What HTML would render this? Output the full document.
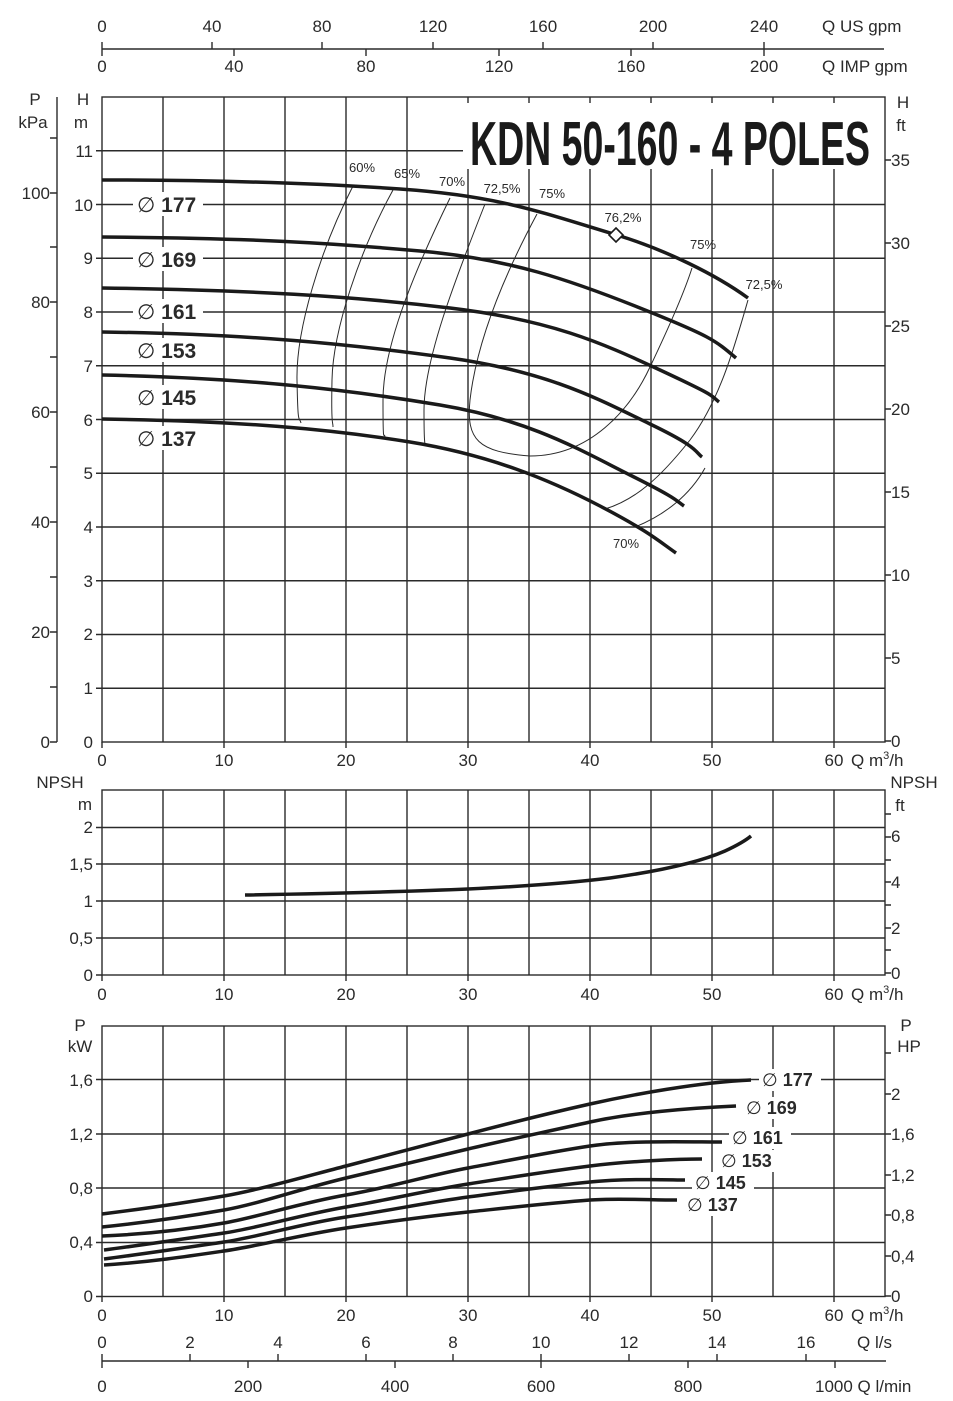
<!DOCTYPE html>
<html><head><meta charset="utf-8"><style>
html,body{margin:0;padding:0;background:#fff;}
svg{display:block;}
text{font-family:"Liberation Sans",Arial,sans-serif;fill:#2a2a2a;}
</style></head><body>
<svg width="953" height="1401" viewBox="0 0 953 1401" xmlns="http://www.w3.org/2000/svg">
<g stroke="#2a2a2a" fill="none" stroke-width="1.4">
<line x1="102" y1="49" x2="884" y2="49"/>
<path d="M102 42V56 M212 42V49 M322 42V49 M433 42V49 M543 42V49 M653 42V49 M764 42V49 M234 49V56 M366 49V56 M499 49V56 M631 49V56 M764 49V56"/>
<rect x="102" y="97" width="783" height="645"/>
<path d="M163 97V742 M224 97V742 M285 97V742 M346 97V742 M407 97V742 M468 97V742 M529 97V742 M590 97V742 M651 97V742 M712 97V742 M773 97V742 M834 97V742"/>
<path d="M96 688.25H885 M96 634.5H885 M96 580.75H885 M96 527H885 M96 473.25H885 M96 419.5H885 M96 365.75H885 M96 312H885 M96 258.25H885 M96 204.5H885 M96 150.75H463"/>
<path d="M102 742V748 M224 742V748 M346 742V748 M468 742V748 M590 742V748 M712 742V748 M834 742V748"/>
<line x1="57" y1="97" x2="57" y2="742"/>
<path d="M50 742H57 M50 687H57 M50 632H57 M50 577H57 M50 522H57 M50 467H57 M50 412H57 M50 357H57 M50 302H57 M50 247H57 M50 193H57 M50 138H57"/>
<path d="M885 741H891 M885 658H891 M885 575H891 M885 492H891 M885 409H891 M885 326H891 M885 243H891 M885 160H891"/>
</g>
<rect x="465" y="103" width="413" height="66" fill="#fff"/>
<text x="470" y="165" font-size="62" font-weight="bold" textLength="400" lengthAdjust="spacingAndGlyphs" style="fill:#1a1a1a">KDN 50-160 - 4 POLES</text>

<g font-size="17">
<text x="102" y="32" text-anchor="middle">0</text><text x="212" y="32" text-anchor="middle">40</text><text x="322" y="32" text-anchor="middle">80</text><text x="433" y="32" text-anchor="middle">120</text><text x="543" y="32" text-anchor="middle">160</text><text x="653" y="32" text-anchor="middle">200</text><text x="764" y="32" text-anchor="middle">240</text><text x="822" y="32">Q US gpm</text>
<text x="102" y="72" text-anchor="middle">0</text><text x="234" y="72" text-anchor="middle">40</text><text x="366" y="72" text-anchor="middle">80</text><text x="499" y="72" text-anchor="middle">120</text><text x="631" y="72" text-anchor="middle">160</text><text x="764" y="72" text-anchor="middle">200</text><text x="822" y="72">Q IMP gpm</text>
<text x="35" y="105" text-anchor="middle">P</text><text x="33" y="128" text-anchor="middle">kPa</text>
<text x="83" y="105" text-anchor="middle">H</text><text x="81" y="128" text-anchor="middle">m</text>
<text x="903" y="108" text-anchor="middle">H</text><text x="901" y="131" text-anchor="middle">ft</text>
<g text-anchor="end">
<text x="93" y="157">11</text><text x="93" y="211">10</text><text x="93" y="264">9</text><text x="93" y="318">8</text><text x="93" y="372">7</text><text x="93" y="426">6</text><text x="93" y="479">5</text><text x="93" y="533">4</text><text x="93" y="587">3</text><text x="93" y="640">2</text><text x="93" y="694">1</text><text x="93" y="748">0</text>
<text x="50" y="199">100</text><text x="50" y="308">80</text><text x="50" y="418">60</text><text x="50" y="528">40</text><text x="50" y="638">20</text><text x="50" y="748">0</text>
</g>
<text x="891" y="166">35</text><text x="891" y="249">30</text><text x="891" y="332">25</text><text x="891" y="415">20</text><text x="891" y="498">15</text><text x="891" y="581">10</text><text x="891" y="664">5</text><text x="891" y="747">0</text>
<text x="102" y="766" text-anchor="middle">0</text><text x="224" y="766" text-anchor="middle">10</text><text x="346" y="766" text-anchor="middle">20</text><text x="468" y="766" text-anchor="middle">30</text><text x="590" y="766" text-anchor="middle">40</text><text x="712" y="766" text-anchor="middle">50</text><text x="834" y="766" text-anchor="middle">60</text><text x="851" y="766">Q m<tspan font-size="11" dy="-7">3</tspan><tspan dy="7">/h</tspan></text>
</g>

<g stroke="#2a2a2a" fill="none" stroke-width="1">
<path d="M353 186 C320 250 296 330 297 380 S299 415 301 423"/>
<path d="M393 190 C360 250 333 330 332 380 S333 420 333 427"/>
<path d="M450 198 C410 280 383 350 383 400 S384 430 385 437"/>
<path d="M485 204 C455 280 424 360 424 410 S426 440 427 445"/>
<path d="M537 214 C515 255 478 330 470 400 C466 440 478 452 530 456 C590 456 630 410 650 367 C670 325 685 290 692 268"/>
<path d="M748 300 C735 345 720 400 690 440 C660 478 635 500 605 509"/>
<path d="M705 468 C690 495 665 515 635 527"/>
</g>
<g stroke="#1a1a1a" fill="none" stroke-width="3.5" stroke-linejoin="round">
<path d="M102 180 C200 180 300 182 400 189 S540 212 620 236 C665 250 715 274 748 298"/>
<path d="M102 237 C250 238 330 243 420 251 S570 280 640 308 S715 340 736 358"/>
<path d="M102 288 C250 290 350 296 450 308 S600 342 660 370 S710 395 719 402"/>
<path d="M102 332 C250 334 350 344 450 358 S600 400 650 424 S695 452 702 457"/>
<path d="M102 375 C250 378 350 390 440 405 S580 450 630 475 S675 500 684 506"/>
<path d="M102 419 C240 421 330 429 410 442 S550 480 600 506 S660 542 676 553"/>
</g>
<path d="M616 228 L623 235 L616 242 L609 235 Z" fill="#fff" stroke="#1a1a1a" stroke-width="1.6"/>
<g font-size="13">
<text x="362" y="172" text-anchor="middle">60%</text><text x="407" y="178" text-anchor="middle">65%</text><text x="452" y="186" text-anchor="middle">70%</text><text x="502" y="193" text-anchor="middle">72,5%</text><text x="552" y="198" text-anchor="middle">75%</text><text x="623" y="222" text-anchor="middle">76,2%</text><text x="703" y="249" text-anchor="middle">75%</text><text x="764" y="289" text-anchor="middle">72,5%</text><text x="626" y="548" text-anchor="middle">70%</text>
</g>
<g font-size="21">
<rect x="133" y="192" width="70" height="24" fill="#fff"/><text x="137" y="212">∅ <tspan font-weight="bold">177</tspan></text>
<rect x="133" y="247" width="70" height="24" fill="#fff"/><text x="137" y="267">∅ <tspan font-weight="bold">169</tspan></text>
<rect x="133" y="299" width="70" height="24" fill="#fff"/><text x="137" y="319">∅ <tspan font-weight="bold">161</tspan></text>
<rect x="133" y="338" width="70" height="24" fill="#fff"/><text x="137" y="358">∅ <tspan font-weight="bold">153</tspan></text>
<rect x="133" y="385" width="70" height="24" fill="#fff"/><text x="137" y="405">∅ <tspan font-weight="bold">145</tspan></text>
<rect x="133" y="426" width="70" height="24" fill="#fff"/><text x="137" y="446">∅ <tspan font-weight="bold">137</tspan></text>
</g>

<g stroke="#2a2a2a" fill="none" stroke-width="1.4">
<rect x="102" y="790" width="783" height="185"/>
<path d="M163 790V975 M224 790V975 M285 790V975 M346 790V975 M407 790V975 M468 790V975 M529 790V975 M590 790V975 M651 790V975 M712 790V975 M773 790V975 M834 790V975"/>
<path d="M96 938H885 M96 901H885 M96 864H885 M96 827.5H885 M96 975H102"/>
<path d="M102 975V981 M224 975V981 M346 975V981 M468 975V981 M590 975V981 M712 975V981 M834 975V981"/>
<path d="M885 973H891 M885 950H891 M885 928H891 M885 905H891 M885 882H891 M885 860H891 M885 837H891 M885 814H891"/>
</g>
<path d="M245 895 C300 894 400 892 468 889 C530 886 570 883 610 878 C660 871 700 862 725 851 C738 845 745 841 751 836" stroke="#1a1a1a" stroke-width="3.5" fill="none"/>
<g font-size="17">
<text x="60" y="788" text-anchor="middle">NPSH</text><text x="85" y="810" text-anchor="middle">m</text>
<text x="914" y="788" text-anchor="middle">NPSH</text><text x="900" y="811" text-anchor="middle">ft</text>
<g text-anchor="end"><text x="93" y="833">2</text><text x="93" y="870">1,5</text><text x="93" y="907">1</text><text x="93" y="944">0,5</text><text x="93" y="981">0</text></g>
<text x="891" y="842">6</text><text x="891" y="888">4</text><text x="891" y="934">2</text><text x="891" y="979">0</text>
<text x="102" y="1000" text-anchor="middle">0</text><text x="224" y="1000" text-anchor="middle">10</text><text x="346" y="1000" text-anchor="middle">20</text><text x="468" y="1000" text-anchor="middle">30</text><text x="590" y="1000" text-anchor="middle">40</text><text x="712" y="1000" text-anchor="middle">50</text><text x="834" y="1000" text-anchor="middle">60</text><text x="851" y="1000">Q m<tspan font-size="11" dy="-7">3</tspan><tspan dy="7">/h</tspan></text>
</g>

<g stroke="#2a2a2a" fill="none" stroke-width="1.4">
<rect x="102" y="1026" width="783" height="270.5"/>
<path d="M163 1026V1296 M224 1026V1296 M285 1026V1296 M346 1026V1296 M407 1026V1296 M468 1026V1296 M529 1026V1296 M590 1026V1296 M651 1026V1296 M712 1026V1296 M773 1026V1296 M834 1026V1296"/>
<path d="M96 1242.5H885 M96 1188H885 M96 1134H885 M96 1079.5H885 M96 1296.5H102"/>
<path d="M102 1296V1302 M224 1296V1302 M346 1296V1302 M468 1296V1302 M590 1296V1302 M712 1296V1302 M834 1296V1302"/>
<path d="M885 1296H891 M885 1256H891 M885 1215H891 M885 1175H891 M885 1134H891 M885 1094H891 M885 1053H891"/>
<line x1="102" y1="1361" x2="886" y2="1361"/>
<path d="M102 1354V1368 M190 1354V1361 M278 1354V1361 M366 1354V1361 M453 1354V1361 M541 1354V1361 M629 1354V1361 M717 1354V1361 M806 1354V1361 M248 1361V1368 M395 1361V1368 M541 1361V1368 M688 1361V1368 M835 1361V1368"/>
</g>
<g stroke="#1a1a1a" fill="none" stroke-width="3.5" stroke-linejoin="round">
<path d="M102 1214 C150 1208 190 1202 224 1196 S300 1178 346 1166 S430 1144 468 1134 S550 1113 590 1104 S700 1082 751 1080"/>
<path d="M102 1227 C150 1222 190 1216 224 1210 S300 1189 346 1178 S430 1158 468 1149 S550 1131 590 1122 S690 1108 736 1106"/>
<path d="M102 1236 C150 1234 190 1229 224 1223 S300 1203 346 1195 S430 1175 468 1168 S550 1152 590 1146 S690 1142 722 1142"/>
<path d="M104 1250 C150 1244 190 1238 224 1233 S300 1215 346 1207 S430 1190 468 1184 S550 1171 590 1166 S680 1159 702 1159"/>
<path d="M104 1259 C150 1253 190 1247 224 1242 S300 1224 346 1217 S430 1202 468 1197 S550 1186 590 1182 S670 1180 685 1180"/>
<path d="M104 1265 C150 1262 190 1256 224 1251 S300 1235 346 1228 S430 1216 468 1212 S550 1203 590 1200 C615 1198 650 1200 677 1200"/>
</g>
<g font-size="18">
<rect x="759" y="1069" width="62" height="22" fill="#fff"/><text x="762" y="1086">∅ <tspan font-weight="bold">177</tspan></text>
<rect x="744" y="1097" width="62" height="22" fill="#fff"/><text x="746" y="1114">∅ <tspan font-weight="bold">169</tspan></text>
<rect x="729" y="1127" width="62" height="22" fill="#fff"/><text x="732" y="1144">∅ <tspan font-weight="bold">161</tspan></text>
<rect x="718" y="1150" width="62" height="22" fill="#fff"/><text x="721" y="1167">∅ <tspan font-weight="bold">153</tspan></text>
<rect x="692" y="1172" width="62" height="22" fill="#fff"/><text x="695" y="1189">∅ <tspan font-weight="bold">145</tspan></text>
<rect x="684" y="1194" width="62" height="22" fill="#fff"/><text x="687" y="1211">∅ <tspan font-weight="bold">137</tspan></text>
</g>
<g font-size="17">
<text x="80" y="1031" text-anchor="middle">P</text><text x="80" y="1052" text-anchor="middle">kW</text>
<text x="906" y="1031" text-anchor="middle">P</text><text x="909" y="1052" text-anchor="middle">HP</text>
<g text-anchor="end"><text x="93" y="1086">1,6</text><text x="93" y="1140">1,2</text><text x="93" y="1194">0,8</text><text x="93" y="1248">0,4</text><text x="93" y="1302">0</text></g>
<text x="891" y="1100">2</text><text x="891" y="1140">1,6</text><text x="891" y="1181">1,2</text><text x="891" y="1221">0,8</text><text x="891" y="1262">0,4</text><text x="891" y="1302">0</text>
<text x="102" y="1321" text-anchor="middle">0</text><text x="224" y="1321" text-anchor="middle">10</text><text x="346" y="1321" text-anchor="middle">20</text><text x="468" y="1321" text-anchor="middle">30</text><text x="590" y="1321" text-anchor="middle">40</text><text x="712" y="1321" text-anchor="middle">50</text><text x="834" y="1321" text-anchor="middle">60</text><text x="851" y="1321">Q m<tspan font-size="11" dy="-7">3</tspan><tspan dy="7">/h</tspan></text>
<text x="102" y="1348" text-anchor="middle">0</text><text x="190" y="1348" text-anchor="middle">2</text><text x="278" y="1348" text-anchor="middle">4</text><text x="366" y="1348" text-anchor="middle">6</text><text x="453" y="1348" text-anchor="middle">8</text><text x="541" y="1348" text-anchor="middle">10</text><text x="629" y="1348" text-anchor="middle">12</text><text x="717" y="1348" text-anchor="middle">14</text><text x="806" y="1348" text-anchor="middle">16</text><text x="857" y="1348">Q l/s</text>
<text x="102" y="1392" text-anchor="middle">0</text><text x="248" y="1392" text-anchor="middle">200</text><text x="395" y="1392" text-anchor="middle">400</text><text x="541" y="1392" text-anchor="middle">600</text><text x="688" y="1392" text-anchor="middle">800</text><text x="815" y="1392">1000 Q l/min</text>
</g>
</svg>
</body></html>
